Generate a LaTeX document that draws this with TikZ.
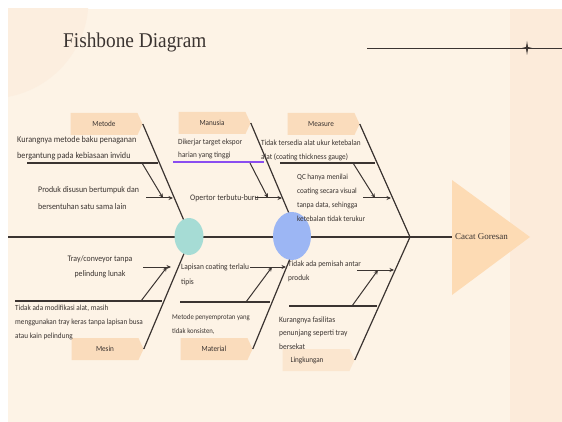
\documentclass[tikz,border=0pt]{standalone}
\usepackage{fontspec}
\setmainfont[FakeStretch=0.92]{Carlito}
\newfontfamily\titlefont[FakeStretch=0.92]{Liberation Serif}
\newfontfamily\headfont{Liberation Serif}
\usetikzlibrary{shapes.symbols,shapes.geometric,arrows.meta}

\definecolor{bgc}{HTML}{FDF3E6}
\definecolor{stripc}{HTML}{FCEBDA}
\definecolor{circc}{HTML}{FCEEDF}
\definecolor{peach}{HTML}{FADCBC}
\definecolor{tri}{HTML}{FDDBB4}
\definecolor{tealc}{HTML}{A6DCD5}
\definecolor{bluec}{HTML}{9CB6F4}
\definecolor{ink}{HTML}{3B3431}
\definecolor{purp}{HTML}{8A4DF0}

\tikzset{
  spineline/.style={draw=ink, line width=2.2pt},
  bone/.style={draw=ink, line width=1.2pt},
  subbone/.style={draw=ink, line width=1.1pt},
  arr/.style={draw=ink, line width=1pt, -{Stealth[length=4.5pt,width=4pt]}},
  lbl/.style={signal, signal to=east, signal pointer angle=130, fill=peach,
    minimum width=72pt, minimum height=22pt, inner sep=0pt,
    font=\fontsize{7.8}{9}\selectfont, text=ink},
  txt/.style={font=\fontsize{8}{14.5}\selectfont, text=ink, align=left,
    inner sep=0pt, anchor=north west},
  blob/.style={ellipse, inner sep=0pt},
}

\begin{document}
\begin{tikzpicture}[x=1pt,y=-1pt]
\useasboundingbox (0,0) rectangle (562,422);
\fill[white] (0,0) rectangle (562,422);
\fill[bgc] (8,9) rectangle (562,422);
\begin{scope}
  \clip (8,9) rectangle (562,422);
  \fill[circc] (-10,0) circle (98.5);
\end{scope}
\fill[stripc] (510,9) rectangle (562,422);

% title and decoration
\node[anchor=base west, inner sep=0pt, font=\titlefont\fontsize{21}{24}\selectfont, text=ink] (title) at (63,48) {Fishbone Diagram};
\coordinate (deco1) at (367,48);
\coordinate (deco2) at (562,48);
\draw[ink, line width=0.8pt] (deco1) -- (deco2);
\fill[ink] (527,41) -- (528,47) -- (532,48) -- (528,49) -- (527,55) -- (526,49) -- (522,48) -- (526,47) -- cycle;

% head
\fill[tri] (452,180) -- (530,237) -- (452,295) -- cycle;
\node[anchor=west, inner sep=0pt, font=\headfont\fontsize{9}{11}\selectfont, text=ink] (effect) at (455,237) {Cacat Goresan};

% spine
\coordinate (tailc) at (8,237);
\coordinate (headc) at (452,237);
\coordinate (vx) at (410,237);
\coordinate (sp1) at (191,237);
\coordinate (sp2) at (299,237);
\draw[spineline] (tailc) -- (headc);

% category labels
\node[lbl] (metode) at (104,124) {Metode};
\node[lbl] (manusia) at (212,123) {Manusia};
\node[lbl] (measure) at (321,124) {Measure};
\node[lbl] (mesin) at (105,349) {Mesin};
\node[lbl] (material) at (214,349) {Material};
\node[lbl, fill=peach!55!bgc] (lingkungan) at (316,360) {\hspace*{-18pt}Lingkungan};

% main bones
\draw[bone] (metode.east) -- (sp1);
\draw[bone] (manusia.east) -- (sp2);
\draw[bone] (measure.east) -- (vx);
\draw[bone] (mesin.east) -- (sp1);
\draw[bone] (material.east) -- (sp2);
\draw[bone] (lingkungan.east) -- (vx);

% Metode sub-bones
\coordinate (a1s) at (27,163);   \coordinate (a1e) at (158,163);
\coordinate (a2s) at (142,163);  \coordinate (a2e) at (163,198);
\coordinate (a3s) at (146,198);  \coordinate (a3e) at (173,198);
\draw[subbone] (a1s) -- (a1e);
\draw[arr] (a2s) -- (a2e);
\draw[arr] (a3s) -- (a3e);

% Manusia sub-bones
\coordinate (b1s) at (173,162);  \coordinate (b1e) at (264,162);
\coordinate (b2s) at (250,163);  \coordinate (b2e) at (268,198);
\coordinate (b3s) at (255,198);  \coordinate (b3e) at (282,198);
\draw[purp, line width=1.5pt] (b1s) -- (b1e);
\draw[arr] (b2s) -- (b2e);
\draw[arr] (b3s) -- (b3e);

% Measure sub-bones
\coordinate (c1s) at (280,163);  \coordinate (c1e) at (375,163);
\coordinate (c2s) at (353,163);  \coordinate (c2e) at (375,198);
\coordinate (c3s) at (363,198);  \coordinate (c3e) at (391,198);
\draw[subbone] (c1s) -- (c1e);
\draw[arr] (c2s) -- (c2e);
\draw[arr] (c3s) -- (c3e);

% Mesin sub-bones
\coordinate (d1s) at (143,267);  \coordinate (d1e) at (171,267);
\coordinate (d2s) at (141,301);  \coordinate (d2e) at (167,267);
\coordinate (d3s) at (15,301);   \coordinate (d3e) at (162,301);
\draw[arr] (d1s) -- (d1e);
\draw[arr] (d2s) -- (d2e);
\draw[subbone] (d3s) -- (d3e);

% Material sub-bones
\coordinate (e1s) at (250,267);  \coordinate (e1e) at (286,267);
\coordinate (e2s) at (246,302);  \coordinate (e2e) at (272,267);
\coordinate (e3s) at (180,302);  \coordinate (e3e) at (270,302);
\draw[arr] (e1s) -- (e1e);
\draw[arr] (e2s) -- (e2e);
\draw[subbone] (e3s) -- (e3e);

% Lingkungan sub-bones
\coordinate (f1s) at (357,270);  \coordinate (f1e) at (394,270);
\coordinate (f2s) at (352,306);  \coordinate (f2e) at (378,270);
\coordinate (f3s) at (289,306);  \coordinate (f3e) at (377,306);
\draw[arr] (f1s) -- (f1e);
\draw[arr] (f2s) -- (f2e);
\draw[subbone] (f3s) -- (f3e);

% joints
\node[blob, fill=tealc, minimum width=29pt, minimum height=37pt] (joint1) at (189,236.5) {};
\node[blob, fill=bluec, minimum width=38pt, minimum height=48pt] (joint2) at (292,236) {};

% cause texts
\node[txt, font=\fontsize{8.9}{15.5}\selectfont] (t1) at (17,136.5) {Kurangnya metode baku penaganan\\bergantung pada kebiasaan invidu};
\node[txt, font=\fontsize{8.6}{17}\selectfont] (t2) at (38,186.5) {Produk disusun bertumpuk dan\\bersentuhan satu sama lain};
\node[txt, font=\fontsize{7.9}{13.5}\selectfont] (t3) at (178,138.5) {Dikerjar target ekspor\\harian yang tinggi};
\node[txt, anchor=west, font=\fontsize{8.5}{10}\selectfont] (t4) at (190,198) {Opertor terbutu-buru};
\node[txt, font=\fontsize{7.9}{14.5}\selectfont] (t5) at (261,139.5) {Tidak tersedia alat ukur ketebalan\\alat (coating thickness gauge)};
\node[txt, font=\fontsize{7.8}{14}\selectfont] (t6) at (297,173.5) {QC hanya menilai\\coating secara visual\\tanpa data, sehingga\\ketebalan tidak terukur};
\node[txt, anchor=north, align=center, font=\fontsize{8.5}{14.5}\selectfont] (t7) at (100,255.5) {Tray/conveyor tanpa\\pelindung lunak};
\node[txt, font=\fontsize{7.85}{14}\selectfont] (t8) at (15,304.5) {Tidak ada modifikasi alat, masih\\menggunakan tray keras tanpa lapisan busa\\atau kain pelindung};
\node[txt, font=\fontsize{8.1}{15}\selectfont] (t9) at (181,264) {Lapisan coating terlalu\\tipis};
\node[txt, font=\fontsize{7.3}{14}\selectfont] (t10) at (172,314.5) {Metode penyemprotan yang\\tidak konsisten,};
\node[txt, font=\fontsize{7.95}{14}\selectfont] (t11) at (288,260.5) {Tidak ada pemisah antar\\produk};
\node[txt, font=\fontsize{8.1}{13.5}\selectfont] (t12) at (279,316.5) {Kurangnya fasilitas\\penunjang seperti tray\\bersekat};
\end{tikzpicture}
\end{document}
